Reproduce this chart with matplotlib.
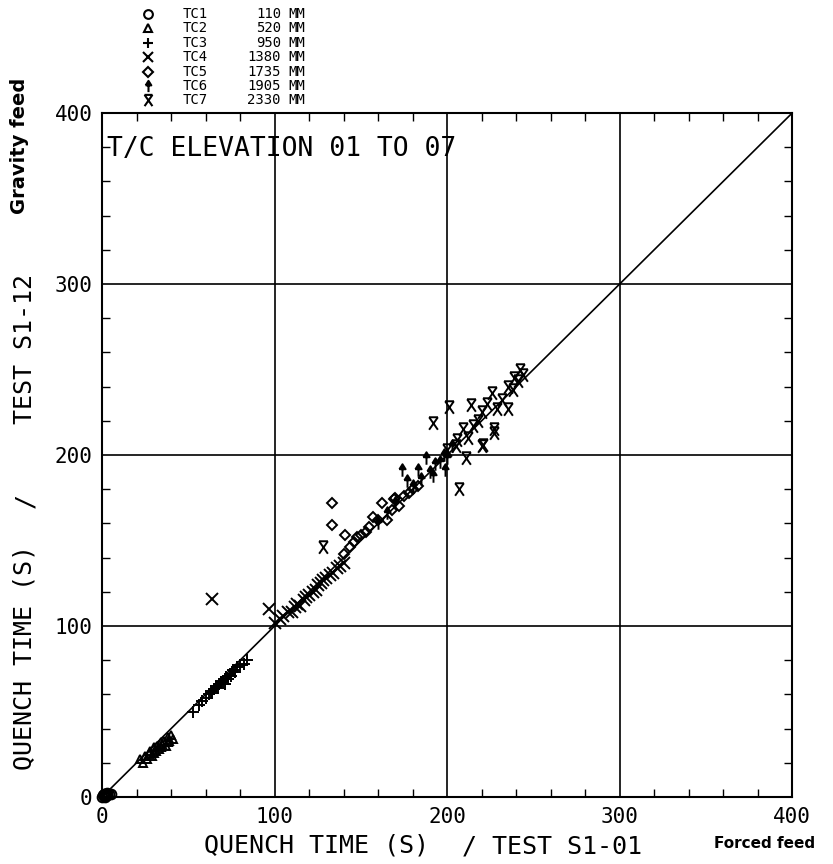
import matplotlib.pyplot as plt
from matplotlib.path import Path
from matplotlib.ticker import MultipleLocator

plt.rcParams['font.family'] = ['DejaVu Sans Mono']

# quench times, forced feed (x) vs gravity feed (y), seconds
tc1_x = [0, 1, 1, 2, 2, 3, 3, 4, 5, 0.5, 1.5, 2.5]
tc1_y = [0, 0.5, 1.5, 1, 2, 1, 2.5, 1.5, 2, 1, 0, 2]

tc2_x = [22, 24, 25, 27, 28, 29, 30, 31, 32, 33, 34, 35, 36, 37, 38, 39, 40, 41, 26, 30, 34, 38]
tc2_y = [22, 20, 24, 25, 27, 24, 29, 27, 30, 28, 32, 31, 33, 30, 35, 33, 36, 34, 22, 26, 29, 32]

tc3_x = [53, 56, 58, 60, 62, 63, 64, 65, 66, 67, 68, 69, 70, 71, 72, 73, 74, 75, 76, 77, 78, 80, 82, 84]
tc3_y = [50, 54, 56, 58, 60, 62, 61, 63, 65, 64, 66, 67, 68, 66, 70, 69, 72, 71, 74, 73, 76, 77, 78, 80]

tc4_x = [64, 97, 100, 103, 105, 108, 110, 112, 113, 115, 117, 118, 120, 122, 124, 125, 127, 128, 130, 132, 134, 136, 138, 140]
tc4_y = [116, 110, 102, 104, 106, 108, 108, 111, 113, 112, 115, 117, 118, 120, 121, 124, 125, 127, 128, 130, 131, 134, 135, 137]

tc5_x = [133, 133, 141, 144, 148, 150, 153, 155, 157, 160, 162, 165, 168, 169, 170, 172, 175, 178, 180, 183, 140, 146]
tc5_y = [172, 159, 153, 146, 152, 153, 155, 158, 164, 162, 172, 162, 168, 174, 175, 170, 176, 178, 180, 182, 142, 149]

tc6_x = [174, 183, 199, 177, 188, 185, 190, 193, 196, 198, 200, 203, 180, 192, 160, 165, 170]
tc6_y = [191, 191, 191, 185, 198, 186, 190, 195, 196, 200, 198, 205, 182, 188, 160, 166, 172]

tc7_x = [128, 192, 201, 214, 207, 211, 242, 244, 239, 235, 226, 235, 229, 223, 227, 220, 215, 209,
         220, 206, 200, 221, 227, 232, 238, 205, 212, 218, 241]
tc7_y = [146, 219, 228, 229, 180, 198, 250, 247, 245, 240, 236, 227, 227, 230, 215, 225, 217, 215,
         205, 209, 203, 206, 213, 232, 238, 205, 210, 220, 243]

names = ['TC1', 'TC2', 'TC3', 'TC4', 'TC5', 'TC6', 'TC7']
elev = ['110', '520', '950', '1380', '1735', '1905', '2330']

M, L = Path.MOVETO, Path.LINETO
arrow = Path([(0, -1), (0, 0.2), (-0.5, 0.2), (0, 1), (0.5, 0.2), (-0.5, 0.2)],
             [M, L, M, L, L, L])
xbar = Path([(-0.7, 1), (0.7, 1), (-0.7, 1), (0.7, -1), (0.7, 1), (-0.7, -1)],
            [M, L, M, L, M, L])

series = [
    (tc1_x, tc1_y, 'o', 'none', 7),
    (tc2_x, tc2_y, '^', 'none', 6),
    (tc3_x, tc3_y, '+', 'black', 8),
    (tc4_x, tc4_y, 'x', 'black', 8),
    (tc5_x, tc5_y, 'D', 'none', 5.5),
    (tc6_x, tc6_y, arrow, 'black', 9),
    (tc7_x, tc7_y, xbar, 'none', 9),
]

fig = plt.figure(figsize=(8.33, 8.64), dpi=100)
ax = fig.add_axes([0.1225, 0.0775, 0.8285, 0.7917])

ax.plot([0, 400], [0, 400], color='black', lw=1.2)
for x, y, m, fc, ms in series:
    ax.plot(x, y, ls='none', marker=m, ms=ms, mfc=fc, mec='black', mew=1.4,
            color='black', clip_on=False, zorder=3)

ax.set_xlim(0, 400)
ax.set_ylim(0, 400)
ax.set_xticks([0, 100, 200, 300, 400])
ax.set_yticks([0, 100, 200, 300, 400])
ax.xaxis.set_minor_locator(MultipleLocator(20))
ax.yaxis.set_minor_locator(MultipleLocator(20))
ax.tick_params(which='both', direction='in', top=True, right=True)
ax.tick_params(which='minor', length=6, width=1)
ax.tick_params(which='major', length=0, labelsize=15, pad=7)
ax.grid(which='major', color='black', lw=1.2)
for s in ax.spines.values():
    s.set_linewidth(1.5)

ax.text(3, 379, 'T/C ELEVATION 01 TO 07', fontsize=19, va='center', ha='left')

# axis titles
W, H = 833, 864
fig.text(316 / W, 1 - 846 / H, 'QUENCH TIME (S)', fontsize=18, ha='center', va='center')
fig.text(462 / W, 1 - 846 / H, '/ TEST S1-01', fontsize=18, ha='left', va='center')
fig.text(765 / W, 1 - 843 / H, 'Forced feed', fontsize=11, ha='center', va='center',
         family='DejaVu Sans', weight='bold')
fig.text(25 / W, 1 - 657 / H, 'QUENCH TIME (S)', fontsize=18, ha='center', va='center', rotation=90)
fig.text(25 / W, 1 - 500 / H, '/', fontsize=18, ha='center', va='center', rotation=90)
fig.text(25 / W, 1 - 349 / H, 'TEST S1-12', fontsize=18, ha='center', va='center', rotation=90)
fig.text(20 / W, 1 - 146 / H, 'Gravity feed', fontsize=14, ha='center', va='center', rotation=90,
         family='DejaVu Sans', weight='bold')

# legend block at the top
lg = fig.add_axes([0, 0, 1, 1], facecolor='none')
lg.set_xlim(0, W)
lg.set_ylim(H, 0)
lg.axis('off')
for i, (x, y, m, fc, ms) in enumerate(series):
    yy = 14 + 14.4 * i
    lg.plot([148], [yy], ls='none', marker=m, ms=ms * 0.9, mfc=fc, mec='black', mew=1.5, color='black')
    lg.text(183, yy, names[i], fontsize=10, va='center', ha='left')
    lg.text(281, yy, elev[i], fontsize=10, va='center', ha='right')
    lg.text(288, yy, 'MM', fontsize=10, va='center', ha='left')

fig.savefig('out.png', dpi=100)
